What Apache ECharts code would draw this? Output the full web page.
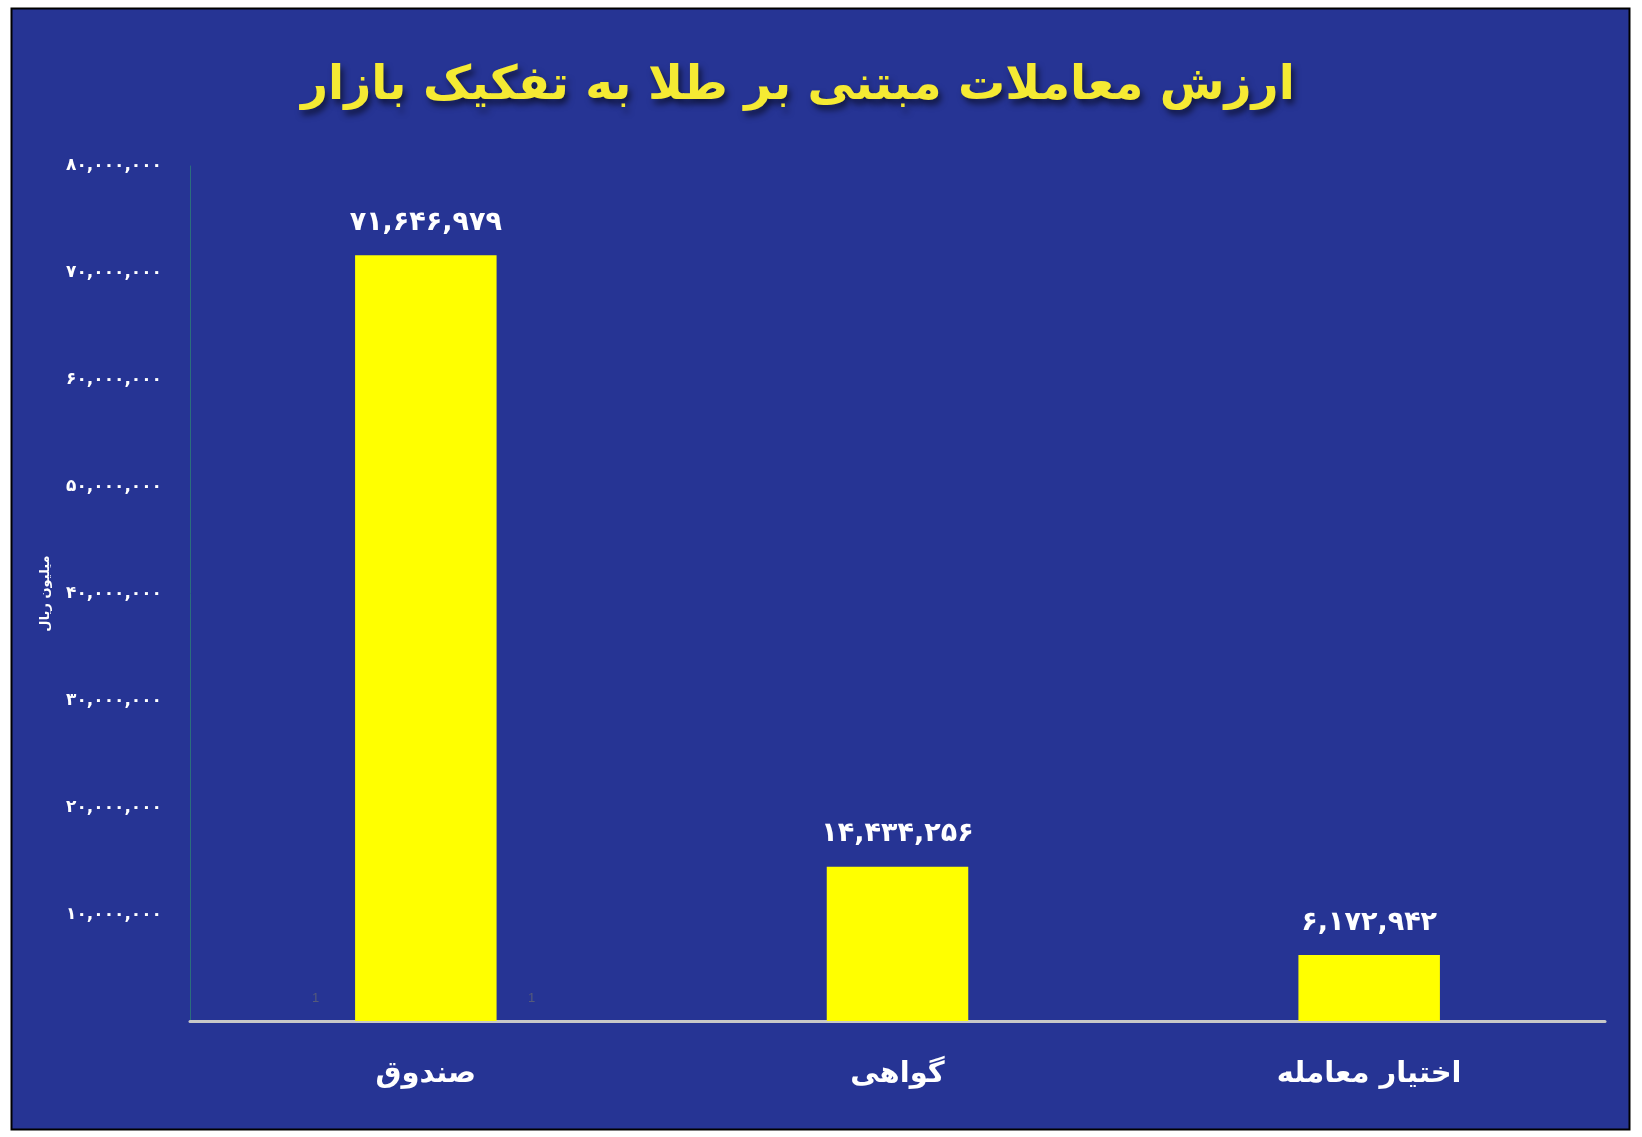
<!DOCTYPE html>
<html><head><meta charset="utf-8">
<script src="https://cdn.jsdelivr.net/npm/echarts@6/dist/echarts.min.js"></script>
<style>html,body{margin:0;padding:0;background:#fff}#c{width:1642px;height:1137px}</style>
</head><body><div id="c"></div>
<script>
const categories = ['صندوق', 'گواهی', 'اختیار معامله'];
const values = [71646979, 14434256, 6172942];
const yTicks = [0, 10000000, 20000000, 30000000, 40000000, 50000000, 60000000, 70000000, 80000000];
const titleText = 'ارزش معاملات مبتنی بر طلا به تفکیک بازار';
const axisName = 'میلیون ریال';

const fa = '۰۱۲۳۴۵۶۷۸۹';
function toFa(n){
  return String(n).replace(/\B(?=(\d{3})+(?!\d))/g, ',').replace(/\d/g, d => fa[+d]);
}
const font = '"DejaVu Sans", "Noto Sans", sans-serif';
const chart = echarts.init(document.getElementById('c'));
chart.setOption({
  backgroundColor: '#ffffff',
  animation: false,
  graphic: [
    {type:'rect', z:-10, shape:{x:11.5, y:8.5, width:1618, height:1121}, style:{fill:'#263494', stroke:'#000', lineWidth:2}},
    {type:'text', z:5, left:312, top:992, style:{text:'1', fill:'#555a7a', font:'13px "Liberation Sans", sans-serif'}},
    {type:'text', z:5, left:528, top:992, style:{text:'1', fill:'#555a7a', font:'13px "Liberation Sans", sans-serif'}}
  ],
  title: {
    text: titleText, left: 296, top: 58,
    textStyle: {color:'#F5EA33', fontSize:47, fontWeight:'bold', fontFamily:font,
      textShadowColor:'rgba(0,0,0,0.55)', textShadowBlur:6, textShadowOffsetX:3, textShadowOffsetY:5}
  },
  grid: {left:190, right:37, top:166, bottom:116, containLabel:false},
  xAxis: {
    type:'category', data: categories,
    axisLine:{show:true, lineStyle:{color:'#C8C8C8', width:3}},
    axisTick:{show:false},
    axisLabel:{color:'#fff', fontSize:29, fontWeight:'bold', fontFamily:font, margin:39}
  },
  yAxis: {
    type:'value', min: yTicks[0], max: yTicks[yTicks.length-1], interval: yTicks[1]-yTicks[0],
    name: axisName, nameLocation:'middle', nameRotate:90, nameGap:138,
    nameTextStyle:{color:'#fff', fontSize:13, fontWeight:'bold', fontFamily:font},
    axisLine:{show:true, lineStyle:{color:'#2A6E7C', width:1}},
    axisTick:{show:false},
    splitLine:{show:false},
    axisLabel:{color:'#fff', fontSize:17, fontWeight:'bold', fontFamily:font, margin:28,
      formatter: v => v === 0 ? '' : toFa(v)}
  },
  series: [{
    type:'bar', data: values, barWidth:'30%',
    itemStyle:{color:'#FFFF00'},
    label:{show:true, position:'top', distance:19, color:'#fff', fontSize:27, fontWeight:'bold', fontFamily:font,
      formatter: p => toFa(p.value)}
  }]
});
</script></body></html>
